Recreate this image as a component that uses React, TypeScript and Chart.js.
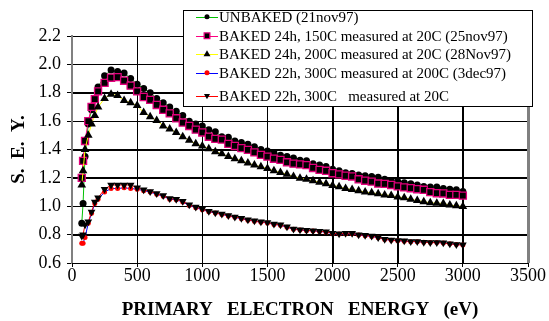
import React, { useEffect, useRef } from "react";
import { Chart, registerables } from "chart.js";

Chart.register(...registerables);

// Primary electron energy (eV)
const energy = [
  75, 85, 100, 125, 150, 175, 200, 250,
  300, 350, 400, 450, 500, 550, 600, 650, 700, 750,
  800, 850, 900, 950, 1000, 1050, 1100, 1150, 1200, 1250,
  1300, 1350, 1400, 1450, 1500, 1550, 1600, 1650, 1700, 1750,
  1800, 1850, 1900, 1950, 2000, 2050, 2100, 2150, 2200, 2250,
  2300, 2350, 2400, 2450, 2500, 2550, 2600, 2650, 2700, 2750,
  2800, 2850, 2900, 2950, 3000,
];

const unbaked = [
  0.88, 1.02, 1.35, 1.58, 1.68, 1.76, 1.84, 1.92,
  1.96, 1.95, 1.94, 1.90, 1.86, 1.83, 1.80, 1.76, 1.73, 1.70,
  1.67, 1.64, 1.60, 1.58, 1.565, 1.54, 1.525, 1.49, 1.487, 1.46,
  1.45, 1.437, 1.42, 1.40, 1.39, 1.375, 1.36, 1.35, 1.34, 1.325,
  1.32, 1.30, 1.29, 1.28, 1.26, 1.25, 1.237, 1.23, 1.22, 1.215,
  1.21, 1.205, 1.19, 1.18, 1.174, 1.165, 1.158, 1.15, 1.14, 1.135,
  1.135, 1.125, 1.12, 1.116, 1.104,
];

const baked150 = [
  1.20, 1.32, 1.46, 1.60, 1.70, 1.755, 1.81, 1.87,
  1.906, 1.91, 1.885, 1.85, 1.81, 1.77, 1.75, 1.714, 1.68, 1.655,
  1.62, 1.59, 1.566, 1.54, 1.52, 1.49, 1.475, 1.47, 1.44, 1.425,
  1.41, 1.397, 1.38, 1.362, 1.35, 1.335, 1.327, 1.31, 1.30, 1.295,
  1.29, 1.27, 1.256, 1.25, 1.233, 1.225, 1.215, 1.21, 1.19, 1.18,
  1.174, 1.16, 1.158, 1.15, 1.14, 1.133, 1.127, 1.12, 1.116, 1.10,
  1.092, 1.09, 1.08, 1.08, 1.075,
];

const baked200 = [
  1.15, 1.25, 1.40, 1.50, 1.58, 1.64, 1.70, 1.76,
  1.79, 1.78, 1.745, 1.73, 1.71, 1.66, 1.63, 1.605, 1.566, 1.545,
  1.52, 1.49, 1.465, 1.44, 1.425, 1.405, 1.385, 1.37, 1.35, 1.335,
  1.32, 1.305, 1.29, 1.278, 1.266, 1.25, 1.238, 1.226, 1.21, 1.198,
  1.19, 1.18, 1.17, 1.158, 1.146, 1.138, 1.125, 1.118, 1.11, 1.10,
  1.095, 1.088, 1.08, 1.075, 1.066, 1.06, 1.05, 1.04, 1.032, 1.024,
  1.022, 1.02, 1.008, 1.003, 0.998,
];

const baked300at200 = [
  0.74, 0.74, 0.78, 0.88, 0.95, 1.02, 1.05, 1.10,
  1.125, 1.125, 1.13, 1.125, 1.12, 1.11, 1.10, 1.085, 1.07, 1.05,
  1.045, 1.03, 1.005, 0.99, 0.975, 0.962, 0.952, 0.942, 0.932, 0.922,
  0.912, 0.902, 0.895, 0.887, 0.882, 0.872, 0.866, 0.852, 0.838, 0.832,
  0.828, 0.826, 0.822, 0.817, 0.808, 0.804, 0.806, 0.807, 0.798, 0.792,
  0.787, 0.778, 0.766, 0.76, 0.756, 0.754, 0.75, 0.75, 0.747, 0.744,
  0.744, 0.741, 0.735, 0.73, 0.727,
];

const baked300at20 = [
  0.79, 0.80, 0.87, 0.89, 0.96, 1.03, 1.06, 1.12,
  1.15, 1.15, 1.15, 1.15, 1.13, 1.116, 1.104, 1.09, 1.075, 1.055,
  1.05, 1.035, 1.01, 0.995, 0.98, 0.965, 0.955, 0.945, 0.935, 0.925,
  0.915, 0.905, 0.898, 0.89, 0.885, 0.875, 0.869, 0.855, 0.84, 0.835,
  0.83, 0.828, 0.824, 0.82, 0.81, 0.806, 0.81, 0.81, 0.80, 0.795,
  0.79, 0.78, 0.768, 0.762, 0.758, 0.756, 0.752, 0.751, 0.747, 0.744,
  0.744, 0.742, 0.735, 0.73, 0.728,
];

const seriesLabels = [
  "UNBAKED (21nov97)",
  "BAKED 24h, 150C measured at 20C (25nov97)",
  "BAKED 24h, 200C measured at 20C (28Nov97)",
  "BAKED 22h, 300C measured at 200C (3dec97)",
  "BAKED 22h, 300C   measured at 20C",
];

const xTitle = "PRIMARY   ELECTRON   ENERGY   (eV)";
const yTitle = "S.  E.  Y.";

const SERIF = '"Liberation Serif", "Times New Roman", serif';

type Style = {
  line: string;
  shape: string;
  radius: number;
  fill: string;
  stroke: string;
  strokeWidth: number;
  rotation: number;
};

const styles: Style[] = [
  { line: "#00c000", shape: "circle", radius: 3.5, fill: "#000", stroke: "#000", strokeWidth: 0, rotation: 0 },
  { line: "#ff0080", shape: "rect", radius: 5, fill: "#000", stroke: "#e0007a", strokeWidth: 1.3, rotation: 0 },
  { line: "#ffff00", shape: "triangle", radius: 5, fill: "#000", stroke: "#000", strokeWidth: 0, rotation: 0 },
  { line: "#0000ff", shape: "circle", radius: 2.5, fill: "#ff0000", stroke: "#ff0000", strokeWidth: 0, rotation: 0 },
  { line: "#ff0000", shape: "triangle", radius: 4.5, fill: "#000", stroke: "#000", strokeWidth: 0, rotation: 180 },
];

const seriesValues = [unbaked, baked150, baked200, baked300at200, baked300at20];

function drawMarker(ctx: CanvasRenderingContext2D, s: Style, x: number, y: number, r: number) {
  ctx.save();
  ctx.translate(x, y);
  ctx.rotate((s.rotation * Math.PI) / 180);
  ctx.beginPath();
  if (s.shape === "circle") {
    ctx.arc(0, 0, r, 0, Math.PI * 2);
  } else if (s.shape === "rect") {
    const h = r * Math.SQRT1_2;
    ctx.rect(-h, -h, 2 * h, 2 * h);
  } else {
    const a = -Math.PI / 2;
    for (let i = 0; i < 3; i++) {
      const ang = a + (i * 2 * Math.PI) / 3;
      const px = Math.cos(ang) * r;
      const py = Math.sin(ang) * r;
      if (i === 0) ctx.moveTo(px, py);
      else ctx.lineTo(px, py);
    }
    ctx.closePath();
  }
  ctx.fillStyle = s.fill;
  ctx.fill();
  if (s.strokeWidth > 0) {
    ctx.strokeStyle = s.stroke;
    ctx.lineWidth = s.strokeWidth;
    ctx.stroke();
  }
  ctx.restore();
}

const gridPlugin = {
  id: "plotGrid",
  beforeDatasetsDraw(chart: any) {
    const ctx: CanvasRenderingContext2D = chart.ctx;
    const a = chart.chartArea;
    const xs = chart.scales.x;
    const ys = chart.scales.y;
    ctx.save();
    ctx.strokeStyle = "#000";
    ctx.lineWidth = 1;
    ctx.beginPath();
    xs.ticks.forEach((t: any) => {
      const px = Math.round(xs.getPixelForValue(t.value)) + 0.5;
      ctx.moveTo(px, a.top);
      ctx.lineTo(px, a.bottom);
    });
    ys.ticks.forEach((t: any) => {
      const py = Math.round(ys.getPixelForValue(t.value)) + 0.5;
      ctx.moveTo(a.left, py);
      ctx.lineTo(a.right, py);
    });
    ctx.stroke();
    // left axis (gray)
    ctx.strokeStyle = "#808080";
    ctx.lineWidth = 2;
    ctx.beginPath();
    ctx.moveTo(a.left, a.top);
    ctx.lineTo(a.left, a.bottom);
    ctx.stroke();
    ctx.restore();
  },
};

const boxLegendPlugin = {
  id: "boxLegend",
  afterDraw(chart: any) {
    const ctx: CanvasRenderingContext2D = chart.ctx;
    const area = chart.chartArea;
    ctx.save();
    // right frame of plot
    ctx.strokeStyle = "#808080";
    ctx.lineWidth = 3;
    ctx.beginPath();
    ctx.moveTo(area.right + 0.5, area.top);
    ctx.lineTo(area.right + 0.5, area.bottom);
    ctx.stroke();

    // legend box
    const bx = 183.5, by = 10.5, bw = 349, bh = 96;
    ctx.fillStyle = "#fff";
    ctx.fillRect(bx, by, bw, bh);
    ctx.strokeStyle = "#000";
    ctx.lineWidth = 1;
    ctx.strokeRect(bx, by, bw, bh);

    const baselines = [21.7, 40.7, 59.3, 77.7, 100.7];
    ctx.font = `15px ${SERIF}`;
    ctx.textBaseline = "alphabetic";
    ctx.textAlign = "left";
    seriesLabels.forEach((label, i) => {
      const yb = baselines[i];
      const ym = yb - 5;
      const s = styles[i];
      ctx.strokeStyle = s.line;
      ctx.lineWidth = 1;
      ctx.beginPath();
      ctx.moveTo(196, Math.round(ym) + 0.5);
      ctx.lineTo(218, Math.round(ym) + 0.5);
      ctx.stroke();
      drawMarker(ctx, s, 207, ym, Math.max(2.5, s.radius - 1));
      ctx.fillStyle = "#000";
      ctx.fillText(label, 219, yb);
    });
    ctx.restore();
  },
};

export default function App() {
  const ref = useRef<HTMLCanvasElement | null>(null);

  useEffect(() => {
    if (!ref.current) return;
    const datasets = seriesValues.map((vals, i) => {
      const s = styles[i];
      return {
        label: seriesLabels[i],
        data: energy.map((e, k) => ({ x: e, y: vals[k] })),
        showLine: true,
        borderColor: s.line,
        borderWidth: 1,
        tension: 0,
        pointStyle: s.shape,
        pointRadius: s.radius,
        pointRotation: s.rotation,
        pointBackgroundColor: s.fill,
        pointBorderColor: s.stroke,
        pointBorderWidth: s.strokeWidth,
        order: 5 - i,
      };
    });

    const chart = new Chart(ref.current, {
      type: "scatter",
      data: { datasets },
      options: {
        responsive: false,
        animation: false,
        layout: { padding: { left: 0, right: 21, top: 36, bottom: 0 } },
        plugins: {
          legend: { display: false },
          tooltip: { enabled: false },
        },
        scales: {
          x: {
            type: "linear",
            min: 0,
            max: 3500,
            ticks: {
              stepSize: 500,
              color: "#000",
              padding: 0,
              maxRotation: 0,
              autoSkip: false,
              font: { family: SERIF, size: 18, lineHeight: 1 },
              callback: (v: any) => String(Math.round(Number(v))),
            },
            grid: { display: true, drawOnChartArea: true, color: "#000", lineWidth: 1, tickLength: 4, tickColor: "#000" },
            border: { color: "#000", width: 1 },
            title: {
              display: true,
              text: xTitle,
              color: "#000",
              padding: { top: 0, bottom: 0 },
              font: { family: SERIF, size: 19, weight: "bold" },
            },
            afterFit: (s: any) => {
              s.height = 58;
            },
          },
          y: {
            type: "linear",
            min: 0.6,
            max: 2.2,
            ticks: {
              stepSize: 0.2,
              color: "#000",
              padding: 6,
              font: { family: SERIF, size: 18 },
              callback: (v: any) => Number(v).toFixed(1),
            },
            grid: { display: true, drawOnChartArea: true, color: "#000", lineWidth: 1, tickLength: 5, tickColor: "#000" },
            border: { color: "#808080", width: 2 },
            title: {
              display: true,
              text: yTitle,
              color: "#000",
              padding: { top: 8, bottom: 0 },
              font: { family: SERIF, size: 19, weight: "bold" },
            },
            afterFit: (s: any) => {
              s.width = 72;
            },
          },
        },
      } as any,
      plugins: [gridPlugin, boxLegendPlugin],
    });
    return () => chart.destroy();
  }, []);

  return (
    <div style={{ position: "absolute", left: 0, top: 0, width: 549, height: 321, background: "#fff" }}>
      <canvas ref={ref} width={549} height={321} style={{ display: "block" }} />
    </div>
  );
}
